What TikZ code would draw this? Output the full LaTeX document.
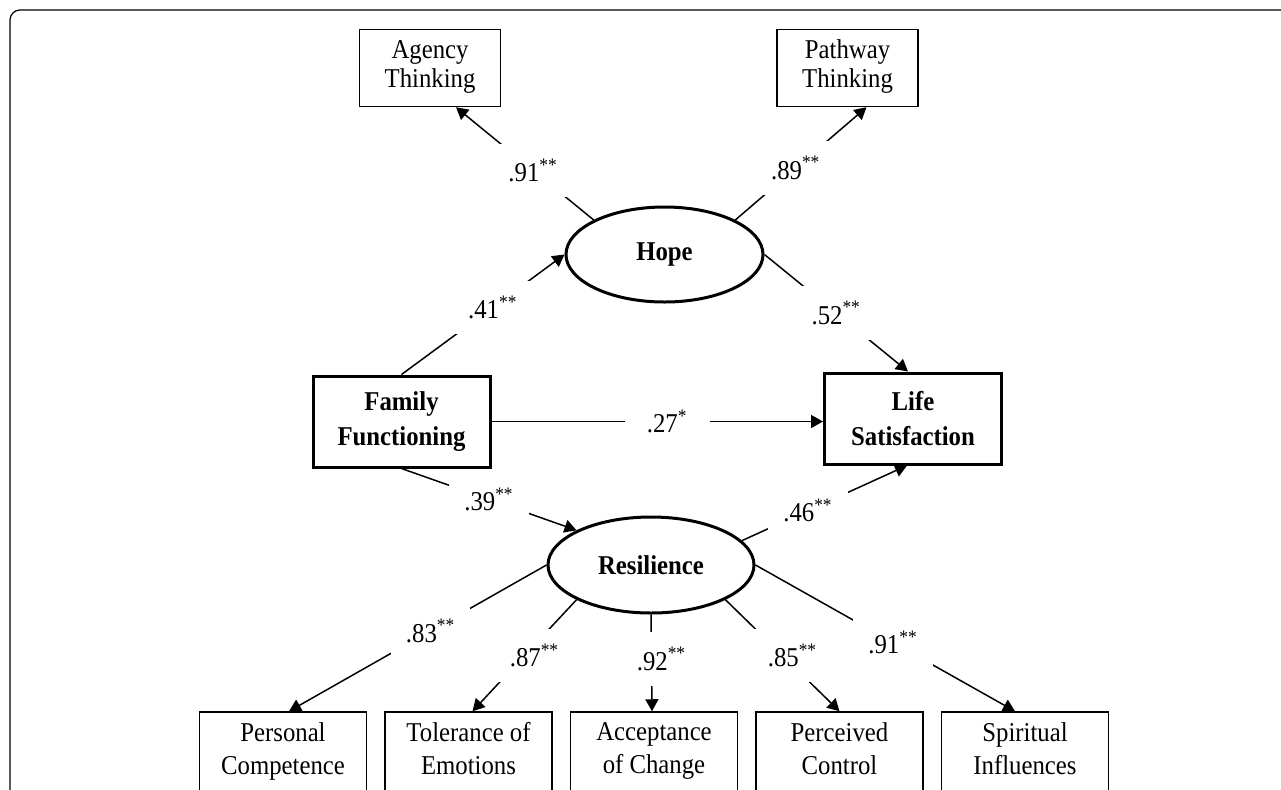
\documentclass[tikz,border=0pt]{standalone}
\usepackage{fontspec}
\setmainfont{Liberation Serif}[FakeStretch=0.91]
\usepackage{tikz}
\usetikzlibrary{arrows.meta, positioning, shapes.geometric, calc}

\begin{document}
\begin{tikzpicture}[
    x=0.5pt, y=-0.5pt,
    every node/.style={align=center, font=\fontsize{13.6}{16.5}\selectfont},
    indicator/.style={draw, rectangle, line width=0.75pt, inner sep=0pt,
        minimum width=83.5pt, minimum height=41pt,
        execute at begin node={\rule{0pt}{14.5pt}}, execute at end node=\strut},
    topind/.style={indicator, minimum width=70.5pt, minimum height=38.5pt,
        font=\fontsize{13.6}{14.5}\selectfont,
        execute at begin node={\rule{0pt}{14.2pt}}},
    observed/.style={draw, rectangle, line width=1.5pt, inner sep=0pt,
        minimum width=88.5pt, minimum height=45.5pt,
        font=\bfseries\fontsize{13.6}{17.5}\selectfont},
    latent/.style={draw, ellipse, line width=1.5pt, inner sep=0pt,
        font=\bfseries\fontsize{13.6}{16.5}\selectfont},
    coef/.style={fill=white, inner sep=7.5pt},
    link/.style={line width=0.75pt},
    arr/.style={link, -{Triangle[length=6pt, width=6.5pt]}}
]
    \useasboundingbox (0,0) rectangle (1281,789);
    \clip (0,0) rectangle (1281,789);
    % frame
    \draw[line width=0.6pt, rounded corners=5pt] (10,820) -- (10,10) -- (1300,10);

    % measured variables and factors
    \node[topind] (agency) at (430,68) {Agency\\Thinking};
    \node[topind] (pathway) at (847.5,68) {Pathway\\Thinking};
    \node[latent, minimum width=98.5pt, minimum height=47.5pt] (hope) at (664.5,254.5) {Hope};
    \node[observed] (family) at (401.5,421.5) {Family\\Functioning};
    \node[observed] (life) at (913,418.5) {Life\\Satisfaction};
    \node[latent, minimum width=103pt, minimum height=48pt] (resil) at (651,565) {Resilience};
    \node[indicator] (pc) at (283,753) {Personal\\Competence};
    \node[indicator, right=8.5pt of pc] (tol) {Tolerance of\\Emotions};
    \node[indicator, right=8.5pt of tol] (acc) {Acceptance\\of Change};
    \node[indicator, right=8.5pt of acc] (per) {Perceived\\Control};
    \node[indicator, right=8.5pt of per] (spi) {Spiritual\\Influences};

    % arrow ends
    \coordinate (agtip) at ($(agency.south)+(26,0)$);
    \coordinate (pwtip) at ($(pathway.south)+(19,0)$);
    \coordinate (lstop) at ($(life.north)+(-5,0)$);
    \coordinate (lsbot) at ($(life.south)+(-6,0)$);
    \coordinate (pctip) at ($(pc.north)+(6,0)$);
    \coordinate (toltip) at ($(tol.north)+(4,0)$);
    \coordinate (acctip) at ($(acc.north)+(-2,0)$);
    \coordinate (spitip) at ($(spi.north)+(-10,0)$);

    % paths
    \draw[arr] (hope.154) -- node[coef, pos=.44] (c1) {.91\textsuperscript{**}} (agtip);
    \draw[arr] (hope.26) -- node[coef, pos=.46] (c2) {.89\textsuperscript{**}} (pwtip);
    \draw[arr] (family.north) -- node[coef, pos=.56] (c3) {.41\textsuperscript{**}} (hope.west);
    \draw[arr] (hope.east) -- node[coef, pos=.5] (c4) {.52\textsuperscript{**}} (lstop);
    \draw[arr] (family.east) -- node[coef, pos=.53, inner xsep=11pt] (c5) {.27\textsuperscript{*}} (family.east -| life.west);
    \draw[arr] (family.south) -- node[coef, pos=.5] (c6) {.39\textsuperscript{**}} (resil.155);
    \draw[arr] (resil.15) -- node[coef, pos=.4] (c7) {.46\textsuperscript{**}} (lsbot);
    \draw[arr] (resil.west) -- node[coef, pos=.45] (c8) {.83\textsuperscript{**}} (pctip);
    \draw[arr] (resil.205) -- node[coef, pos=.5, xshift=5pt] (c9) {.87\textsuperscript{**}} (toltip);
    \draw[arr] (resil.south) -- node[coef, pos=.46, xshift=5pt] (c10) {.92\textsuperscript{**}} (acctip);
    \draw[arr] (resil.335) -- node[coef, pos=.5, xshift=5pt] (c11) {.85\textsuperscript{**}} (per.north);
    \draw[arr] (resil.east) -- node[coef, pos=.53] (c12) {.91\textsuperscript{**}} (spitip);
\end{tikzpicture}
\end{document}
